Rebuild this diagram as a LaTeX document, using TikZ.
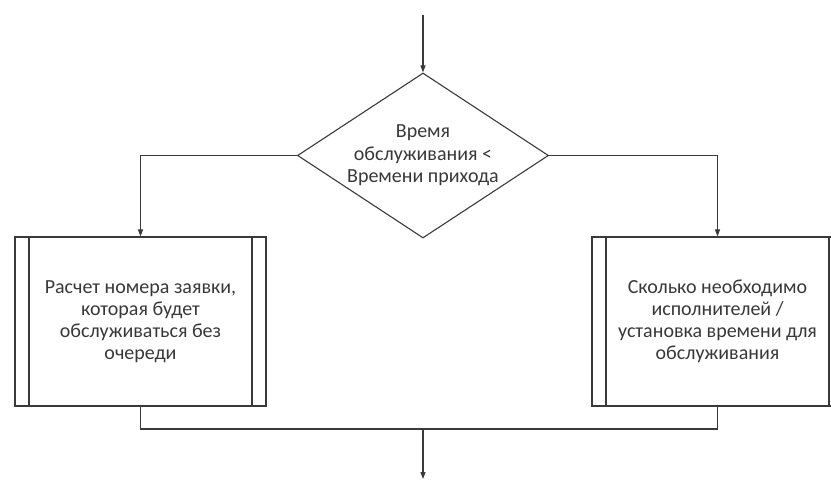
\documentclass[tikz,border=0pt]{standalone}
\usepackage{fontspec}
\setmainfont{Carlito}
\usetikzlibrary{shapes.geometric,arrows.meta}
\definecolor{ink}{HTML}{3A3A3A}
\definecolor{txt}{HTML}{383838}
\tikzset{
  line/.style={draw=ink, line width=1.1pt},
  flow/.style={line, -{Triangle[length=7pt,width=5pt]}},
  decision/.style={line, diamond, minimum width=251pt, minimum height=165pt,
    aspect=1.52, inner sep=0pt, align=center, text=txt,
    font=\fontsize{20}{22.5}\selectfont},
  subproc/.style={line, rectangle, minimum width=251pt, minimum height=169pt,
    inner sep=0pt, align=center, text=txt, font=\fontsize{20}{22}\selectfont,
    path picture={
      \draw[ink, line width=1.1pt]
        ([xshift=14pt]path picture bounding box.north west) --
        ([xshift=14pt]path picture bounding box.south west);
      \draw[ink, line width=1.1pt]
        ([xshift=-14pt]path picture bounding box.north east) --
        ([xshift=-14pt]path picture bounding box.south east);
    }},
}
\begin{document}
\begin{tikzpicture}[x=1pt, y=-1pt]
  \useasboundingbox (0,0) rectangle (831,484);
  \coordinate (in) at (423,15);
  \node[decision] (cond) at (423,155.5)
    {Время\\обслуживания <\\Времени прихода};
  \node[subproc] (calc) at (140.5,321.5)
    {Расчет номера заявки,\\которая будет\\обслуживаться без\\очереди};
  \node[subproc] (count) at (717.5,321.5)
    {Сколько необходимо\\исполнителей /\\установка времени для\\обслуживания};
  \coordinate (join) at (423,429);
  \coordinate (out) at (423,479);

  \draw[flow] (in) -- (cond.north);
  \draw[flow] (cond.west) -| (calc.north);
  \draw[flow] (cond.east) -| (count.north);
  \draw[line] (calc.south) |- (join);
  \draw[line] (count.south) |- (join);
  \draw[flow] (join) -- (out);
\end{tikzpicture}
\end{document}
